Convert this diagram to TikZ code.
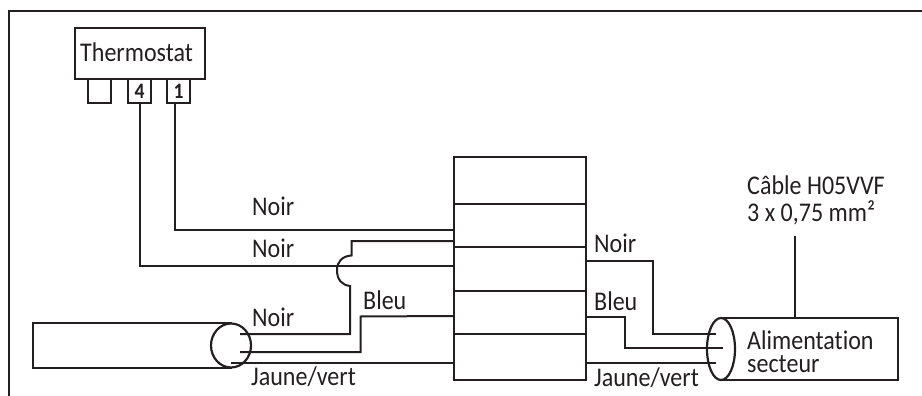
\documentclass[tikz,border=0pt]{standalone}
\usepackage{fontspec}
\usetikzlibrary{shapes.geometric}
\setmainfont[Ligatures=NoCommon,FakeStretch=0.89]{Carlito}
\definecolor{ink}{HTML}{231F20}
\tikzset{
  wire/.style={draw=ink,line width=2pt},
  boxs/.style={draw=ink,line width=2pt,fill=white,inner sep=0pt,minimum width=#1},
  lab/.style={inner sep=0pt,text=ink,font=\fontsize{27}{29}\selectfont},
  num/.style={inner sep=0pt,text=ink,font=\bfseries\fontsize{22}{24}\selectfont},
  oval/.style={draw=ink,line width=2.2pt,ellipse,inner sep=0pt},
}
\begin{document}
\begin{tikzpicture}[x=1pt,y=-1pt]
\useasboundingbox (0,0) rectangle (922,396);
% frame
\draw[ink,line width=2.8pt] (9,396) -- (9,11) -- (922,11);
% thermostat
\node[boxs=130pt,minimum height=51pt] (th) at (139.5,54) {};
\node[lab,anchor=base west] (tht) at (80,62) {Thermostat};
\node[boxs=23pt,minimum height=24pt] (p0) at (99.5,91.5) {};
\node[boxs=23pt,minimum height=24pt] (p4) at (139.5,91.5) {};
\node[boxs=23pt,minimum height=24pt] (p1) at (178.5,91.5) {};
\node[num] (n4) at (139.5,91.5) {4};
\node[num] (n1) at (178.5,91.5) {1};
% terminal block
\draw[ink,line width=2pt] (453.5,156.5) rectangle (585.5,379.5);
\foreach \y in {203.5,246.5,291,333.5}{\draw[ink,line width=2pt] (453,\y) -- (585.5,\y);}
\coordinate (tNoirA) at (453,229.5);
\coordinate (tNoirB) at (453,241);
\coordinate (tNoirC) at (453,265.5);
\coordinate (tBleu) at (453,316);
\coordinate (tJV) at (453,362.5);
\coordinate (rN) at (586,261);
\coordinate (rB) at (586,317);
\coordinate (rJ) at (586,362.5);
% top wires
\draw[wire] (174.5,103) -- (174.5,229.5) -- (tNoirA);
\draw[wire] (139.5,103) -- (139.5,265.5) -- (tNoirC);
% left cable
\draw[wire] (232,323) -- (32.5,323) -- (32.5,367.5) -- (232,367.5);
\node[oval,minimum width=40pt,minimum height=44pt] (lc) at (231,345.5) {};
\draw[wire] (240,334) -- (350,334) -- (350,286) .. controls (342,285) and (337,280) .. (337,270) .. controls (337,262) and (342,256) .. (351.5,255.5) -- (351.5,241) -- (tNoirB);
\draw[wire] (240,352) -- (360.5,352) -- (360.5,316.5) -- (tBleu);
\draw[wire] (231,362.5) -- (tJV);
% right wires
\coordinate (rc1) at (716,333.5);
\coordinate (rc2) at (723,347.5);
\coordinate (rc3) at (716,362.5);
\draw[wire] (rN) -- (653,261) -- (653,333.5) -- (rc1);
\draw[wire] (rB) -- (625,317) -- (625,347.5) -- (rc2);
\draw[wire] (rJ) -- (rc3);
% right cable
\draw[wire] (721,318) -- (897.5,318) -- (897.5,379.5) -- (721,379.5);
\node[oval,minimum width=28pt,minimum height=62pt] (rc) at (721,349) {};
\coordinate (cl) at (794.5,236);
\coordinate (clb) at (794.5,318);
\draw[wire] (cl) -- (clb);
% labels
\node[lab,anchor=base west] at (252,215) {Noir};
\node[lab,anchor=base west] at (252,257) {Noir};
\node[lab,anchor=base west] at (252,326) {Noir};
\node[lab,anchor=base west] at (363,309) {Bleu};
\node[lab,anchor=base west] at (251,385) {Jaune/vert};
\node[lab,anchor=base west] at (594,252) {Noir};
\node[lab,anchor=base west] at (594,310) {Bleu};
\node[lab,anchor=base west] at (594,386) {Jaune/vert};
\node[lab,anchor=base west] at (747,194) {Câble H05VVF};
\node[lab,anchor=base west] at (747,221) {3 x 0,75 mm²};
\node[lab,anchor=base west] at (747,349) {Alimentation};
\node[lab,anchor=base west] at (747,372) {secteur};
\end{tikzpicture}
\end{document}
